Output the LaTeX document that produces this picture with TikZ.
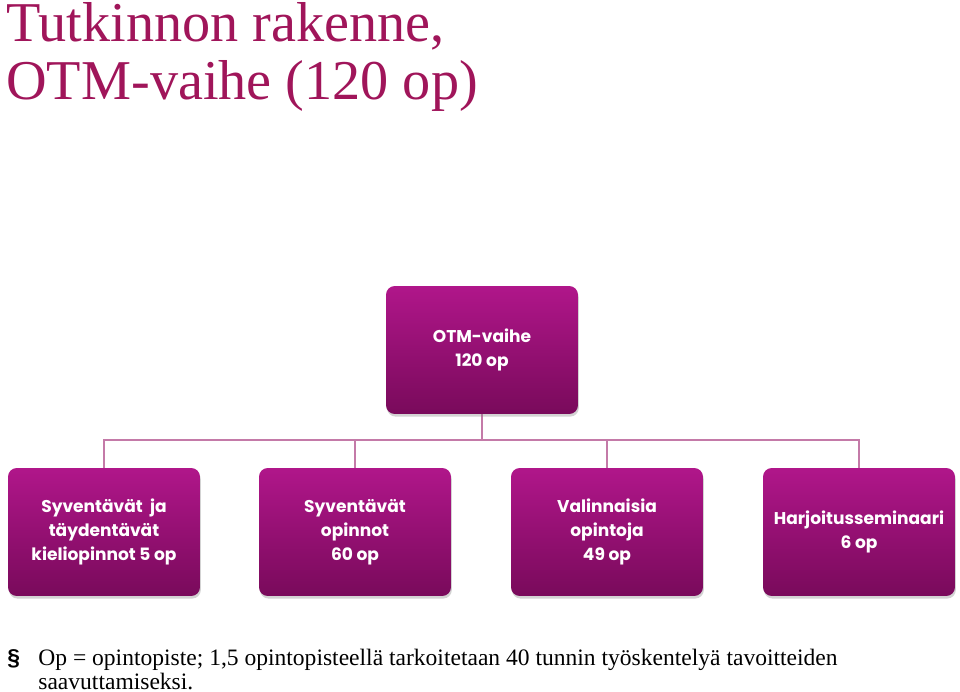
\documentclass[tikz,border=0pt]{standalone}
\usepackage{fontspec}
\setmainfont{Liberation Serif}
\newfontfamily\boxfont{Poppins}
\newfontfamily\bulletfont{Liberation Sans}
\usetikzlibrary{shadows}
\definecolor{titlered}{HTML}{A0155A}
\definecolor{boxtop}{HTML}{B0168A}
\definecolor{boxbottom}{HTML}{790A5B}
\definecolor{linkpink}{HTML}{C47AA8}

\begin{document}
\begin{tikzpicture}[x=0.02cm,y=-0.02cm,
  unitbox/.style={rectangle,rounded corners=5pt,minimum width=3.84cm,minimum height=2.56cm,
    top color=boxtop,bottom color=boxbottom,draw=none,text=white,align=center,
    font=\boxfont\bfseries\fontsize{9.7}{13.6}\selectfont,
    drop shadow={opacity=0.35,shadow xshift=0.5pt,shadow yshift=-1.5pt}},
  link/.style={draw=linkpink,line width=1.6pt}]
\useasboundingbox (0,0) rectangle (960,692);
\node[anchor=base west,inner sep=0pt,text=titlered,font=\fontsize{32}{38}\selectfont] (title1) at (6,42) {Tutkinnon rakenne,};
\node[anchor=base west,inner sep=0pt,text=titlered,font=\fontsize{32}{38}\selectfont] (title2) at (6,100) {OTM-vaihe (120 op)};
\coordinate (bar) at (482,440);
\foreach \b/\x in {b1/104,b2/355,b3/607,b4/859}
  \draw[link] (482,414) -- (bar) -| (\x,470);
\node[unitbox] (top) at (482,350) {OTM-vaihe\\120 op};
\node[unitbox] (b1) at (104,532) {Syventävät~ ja\\täydentävät\\kieliopinnot 5 op};
\node[unitbox] (b2) at (355,532) {Syventävät\\opinnot\\60 op};
\node[unitbox] (b3) at (607,532) {Valinnaisia\\opintoja\\49 op};
\node[unitbox] (b4) at (859,532) {Harjoitusseminaari\\6 op};
\node[anchor=base west,inner sep=0pt,font=\bulletfont\bfseries\fontsize{13}{15}\selectfont] (bullet) at (7,665) {§};
\node[anchor=base west,inner sep=0pt,font=\fontsize{13.4}{13.4}\selectfont] (note1) at (38,665) {Op = opintopiste; 1,5 opintopisteellä tarkoitetaan 40 tunnin työskentelyä tavoitteiden};
\node[anchor=base west,inner sep=0pt,font=\fontsize{13.4}{13.4}\selectfont] (note2) at (38,689) {saavuttamiseksi.};
\end{tikzpicture}
\end{document}
